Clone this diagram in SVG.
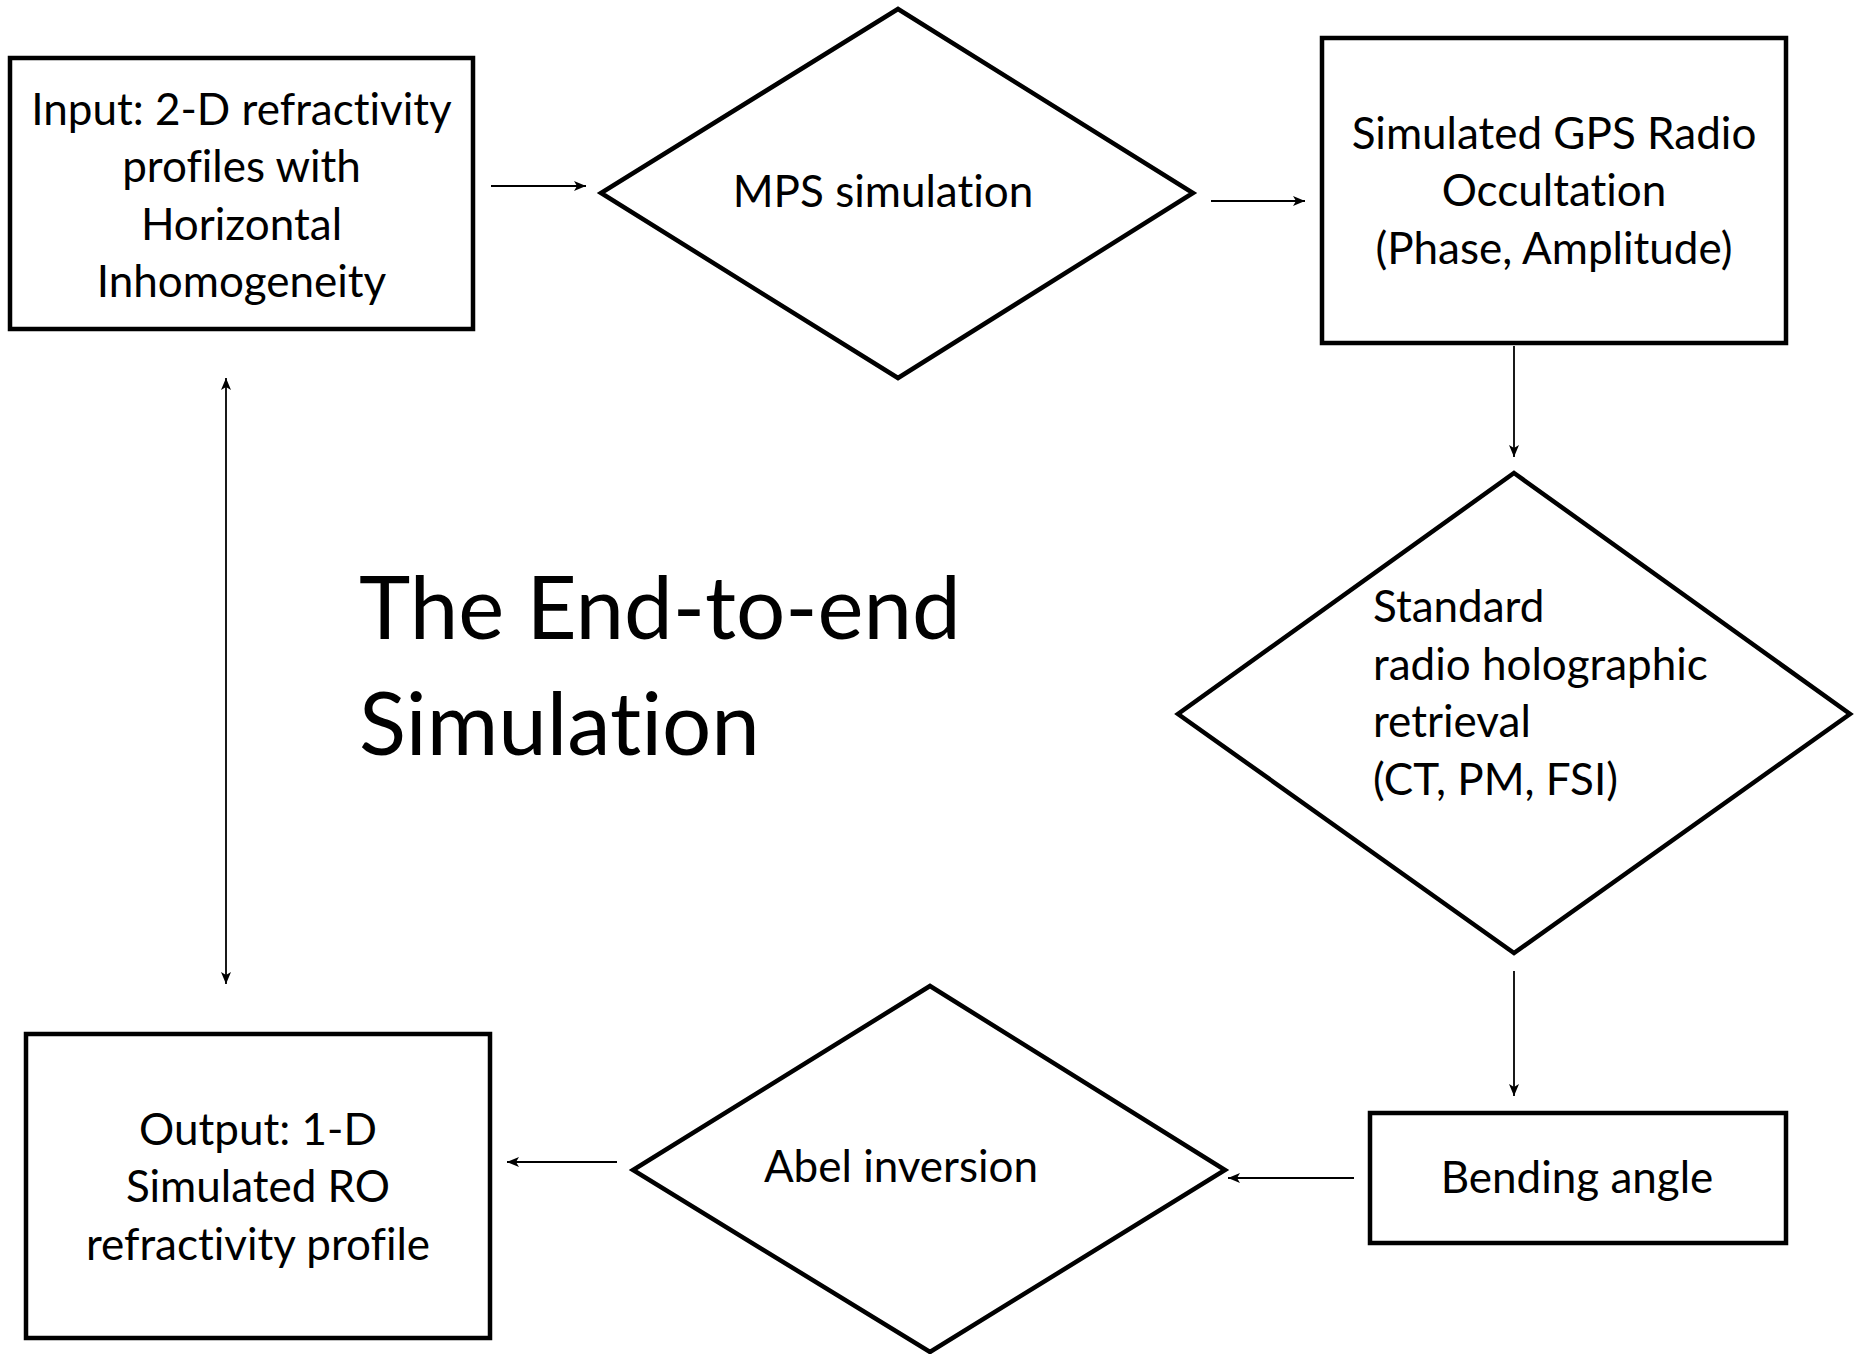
<svg xmlns="http://www.w3.org/2000/svg" width="1856" height="1354" viewBox="0 0 1856 1354">
<style>
.shape{fill:none;stroke:#000;stroke-width:4.5;stroke-linejoin:miter}
text{font-variant-ligatures:none;font-feature-settings:"liga" 0,"clig" 0}
.t{font-family:Lato,"Open Sans","Liberation Sans",sans-serif;font-size:44px;fill:#000}
.c{text-anchor:middle}
.title{font-family:Lato,"Open Sans","Liberation Sans",sans-serif;font-size:87px;fill:#000}
.conn{fill:none;stroke:#000;stroke-width:1.8}
</style>
<defs>
<marker id="ah" markerUnits="userSpaceOnUse" markerWidth="14" markerHeight="10" refX="12" refY="5" orient="auto-start-reverse" viewBox="0 0 14 10">
<path d="M0,0 L12,5 L0,10 L3,5 Z" fill="#000"/>
</marker>
</defs>
<rect width="1856" height="1354" fill="#fff"/>
<g id="input">
<rect class="shape" x="10" y="58" width="463" height="271"/>
<text class="t c" x="241.5" y="125">Input: 2-D refractivity</text>
<text class="t c" x="241.5" y="182">profiles with</text>
<text class="t c" x="241.5" y="240">Horizontal</text>
<text class="t c" x="241.5" y="297">Inhomogeneity</text>
</g>
<g id="mps">
<polygon class="shape" points="898,9 1193,193 898,378 601,193"/>
<text class="t c" x="883" y="207">MPS simulation</text>
</g>
<g id="gps">
<rect class="shape" x="1322" y="38" width="464" height="305"/>
<text class="t c" x="1554" y="149">Simulated GPS Radio</text>
<text class="t c" x="1554" y="206">Occultation</text>
<text class="t c" x="1554" y="264">(Phase, Amplitude)</text>
</g>
<g id="standard">
<polygon class="shape" points="1514,473 1850,714 1514,953 1178,714"/>
<text class="t" x="1373" y="622">Standard</text>
<text class="t" x="1373" y="680">radio holographic</text>
<text class="t" x="1373" y="737">retrieval</text>
<text class="t" x="1373" y="795">(CT, PM, FSI)</text>
</g>
<g id="bending">
<rect class="shape" x="1370" y="1113" width="416" height="130"/>
<text class="t c" x="1577" y="1193">Bending angle</text>
</g>
<g id="abel">
<polygon class="shape" points="930,986 1225,1170 930,1352 633,1170"/>
<text class="t c" x="901" y="1182">Abel inversion</text>
</g>
<g id="output">
<rect class="shape" x="26" y="1034" width="464" height="304"/>
<text class="t c" x="258" y="1145">Output: 1-D</text>
<text class="t c" x="258" y="1202">Simulated RO</text>
<text class="t c" x="258" y="1260">refractivity profile</text>
</g>
<g id="title">
<text class="title" x="359" y="639">The End-to-end</text>
<text class="title" x="359" y="755">Simulation</text>
</g>
<g id="connectors">
<line class="conn" x1="491" y1="186" x2="586" y2="186" marker-end="url(#ah)"/>
<line class="conn" x1="1211" y1="201" x2="1305" y2="201" marker-end="url(#ah)"/>
<line class="conn" x1="1514" y1="346" x2="1514" y2="457" marker-end="url(#ah)"/>
<line class="conn" x1="1514" y1="971" x2="1514" y2="1096" marker-end="url(#ah)"/>
<line class="conn" x1="1354" y1="1178" x2="1228" y2="1178" marker-end="url(#ah)"/>
<line class="conn" x1="617" y1="1162" x2="507" y2="1162" marker-end="url(#ah)"/>
<line class="conn" x1="226" y1="378" x2="226" y2="984" marker-start="url(#ah)" marker-end="url(#ah)"/>
</g>
</svg>
